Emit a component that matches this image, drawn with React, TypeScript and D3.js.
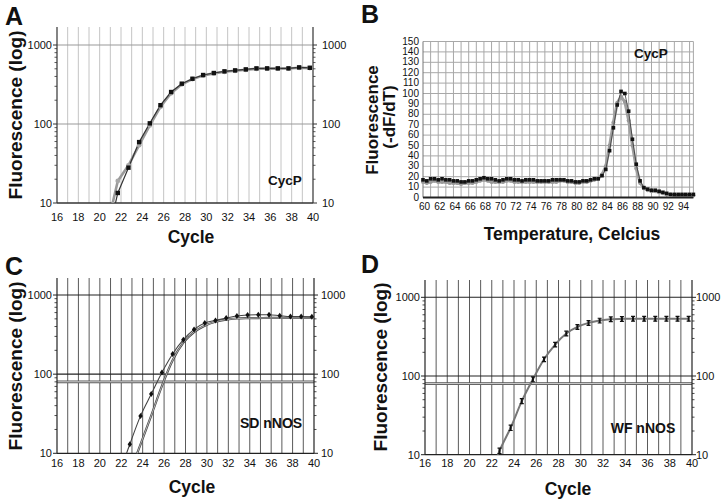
import React from "react";
import * as d3 from "d3";

const FONT = "'Liberation Sans', Arial, Helvetica, sans-serif";

// ---------- shared cycle / log axis ----------
const cycleTickLabels = [16, 18, 20, 22, 24, 26, 28, 30, 32, 34, 36, 38, 40];
const cycleGrid = [17, 18, 19, 20, 21, 22, 23, 24, 25, 26, 27, 28, 29, 30, 31, 32, 33, 34, 35, 36, 37, 38, 39];
const logMajor = [10, 100, 1000];
const logMinor = [20, 30, 40, 50, 60, 70, 80, 90, 200, 300, 400, 500, 600, 700, 800, 900];
const logHLines = [100, 1000];

// ---------- Panel A : CycP amplification ----------
const cyclesA = [20.7, 21.7, 22.7, 23.7, 24.7, 25.7, 26.7, 27.7, 28.7, 29.7, 30.7, 31.7, 32.7, 33.7, 34.7, 35.7, 36.7, 37.7, 38.7, 39.7];
const cycPRunBlack = [3.5, 13.4, 28, 59, 102, 173, 254, 324, 374, 417, 442, 464, 477, 491, 506, 506, 506, 506, 521, 515];
const cycPRunGray = [5, 19, 30, 54, 96, 165, 245, 318, 370, 410, 437, 458, 472, 486, 500, 502, 503, 504, 515, 510];

// ---------- Panel B : CycP melt curve ----------
const temps = [
  60, 60.5, 61, 61.5, 62, 62.5, 63, 63.5, 64, 64.5, 65, 65.5, 66, 66.5, 67, 67.5, 68, 68.5, 69, 69.5,
  70, 70.5, 71, 71.5, 72, 72.5, 73, 73.5, 74, 74.5, 75, 75.5, 76, 76.5, 77, 77.5, 78, 78.5, 79, 79.5,
  80, 80.5, 81, 81.5, 82, 82.5, 83, 83.5, 84, 84.5, 85, 85.5, 86, 86.5, 87, 87.5, 88, 88.5, 89, 89.5,
  90, 90.5, 91, 91.5, 92, 92.5, 93, 93.5, 94, 94.5, 95, 95.5,
];
const meltBlack = [
  17, 16, 18, 18, 17, 18, 17, 17, 16, 16, 15, 15, 16, 16, 17, 18, 19, 18, 18, 17,
  16, 17, 18, 18, 17, 17, 16, 17, 17, 17, 16, 16, 16, 16, 17, 17, 17, 17, 16, 16,
  15, 15, 16, 16, 17, 18, 18, 21, 27, 45, 67, 89, 102, 100, 83, 56, 32, 16, 9.5, 8,
  7, 7, 6, 5, 4, 3, 3, 3, 3, 3, 3, 3,
];
const meltGray = [
  15, 14, 15, 16, 15, 15, 15, 14, 14, 14, 13, 14, 14, 14, 15, 16, 17, 16, 15, 15,
  15, 15, 16, 16, 15, 15, 15, 15, 15, 15, 15, 15, 15, 15, 15, 15, 16, 16, 15, 15,
  14, 14, 15, 15, 16, 17, 18, 22, 30, 50, 72, 91, 97, 92, 74, 50, 28, 14, 9, 7,
  6, 6, 5, 4, 3, 3, 2, 2, 2, 2, 2, 2,
];
const tempTickLabels = [60, 62, 64, 66, 68, 70, 72, 74, 76, 78, 80, 82, 84, 86, 88, 90, 92, 94];
const tempGrid = [61, 62, 63, 64, 65, 66, 67, 68, 69, 70, 71, 72, 73, 74, 75, 76, 77, 78, 79, 80, 81, 82, 83, 84, 85, 86, 87, 88, 89, 90, 91, 92, 93, 94, 95, 95.5];
const dfTicks = [0, 10, 20, 30, 40, 50, 60, 70, 80, 90, 100, 110, 120, 130, 140, 150];

// ---------- Panel C : SD nNOS ----------
const cyclesC = [21.8, 22.8, 23.8, 24.8, 25.8, 26.8, 27.8, 28.8, 29.8, 30.8, 31.8, 32.8, 33.8, 34.8, 35.8, 36.8, 37.8, 38.8, 39.8];
const sdRun1 = [5.4, 13, 29.7, 56, 105, 180, 273, 368, 443, 478, 511, 543, 558, 563, 563, 548, 535, 535, 530];
const sdRun2 = [2, 5.5, 13, 30, 71, 150, 250, 340, 410, 460, 490, 505, 510, 512, 513, 513, 513, 513, 513];
const thresholdC = 80;

// ---------- Panel D : WF nNOS ----------
const cyclesD = [21.7, 22.7, 23.7, 24.7, 25.7, 26.7, 27.7, 28.7, 29.7, 30.7, 31.7, 32.7, 33.7, 34.7, 35.7, 36.7, 37.7, 38.7, 39.7];
const wfMean = [4.7, 11.2, 22, 48, 91, 163, 251, 347, 421, 473, 507, 527, 532, 535, 535, 535, 535, 535, 535];
const wfErr = [0, 0.9, 1.7, 3.5, 6.5, 11, 17, 24, 29, 33, 35, 37, 37, 38, 38, 38, 38, 38, 38];
const thresholdD = 80;

type Frame = { left: number; right: number; top: number; bottom: number; yMax: number };

function scalesFor(f: Frame) {
  const x = d3.scaleLinear().domain([16, 40]).range([f.left, f.right]);
  const y = d3.scaleLog().domain([10, f.yMax]).range([f.bottom, f.top]);
  return { x, y };
}

function LogFrame(props: {
  id: string;
  f: Frame;
  vColor: string;
  hColor: string;
  axisColor: string;
  rightGap: number;
  labelY: number;
  threshold?: number;
  children?: React.ReactNode;
}) {
  const { id, f, vColor, hColor, axisColor, rightGap, labelY, threshold } = props;
  const { x, y } = scalesFor(f);
  return (
    <g>
      <defs>
        <clipPath id={id}>
          <rect x={f.left} y={f.top - 4} width={f.right - f.left} height={f.bottom - f.top + 4} />
        </clipPath>
      </defs>
      {cycleGrid.map((c) => (
        <line key={"v" + c} x1={x(c)} x2={x(c)} y1={f.top} y2={f.bottom} stroke={vColor} strokeWidth={1} />
      ))}
      {logHLines.map((v) => (
        <line key={"h" + v} x1={f.left} x2={f.right} y1={y(v)} y2={y(v)} stroke={hColor} strokeWidth={1.1} />
      ))}
      {threshold !== undefined && (
        <g>
          <line x1={f.left} x2={f.right} y1={y(threshold)} y2={y(threshold)} stroke="#555" strokeWidth={2.8} />
          <line x1={f.left} x2={f.right} y1={y(threshold)} y2={y(threshold)} stroke="#e6e6e6" strokeWidth={0.9} />
        </g>
      )}
      <line x1={f.left} x2={f.left} y1={f.top} y2={f.bottom} stroke={axisColor} strokeWidth={1.2} />
      <line x1={f.right} x2={f.right} y1={f.top} y2={f.bottom} stroke={axisColor} strokeWidth={1.2} />
      <line x1={f.left} x2={f.right} y1={f.bottom} y2={f.bottom} stroke={axisColor} strokeWidth={1.3} />
      {logMinor.map((v) => (
        <g key={"m" + v}>
          <line x1={f.left - 2.5} x2={f.left} y1={y(v)} y2={y(v)} stroke={axisColor} strokeWidth={0.8} />
          <line x1={f.right} x2={f.right + 2.5} y1={y(v)} y2={y(v)} stroke={axisColor} strokeWidth={0.8} />
        </g>
      ))}
      {logMajor.map((v) => (
        <g key={"M" + v}>
          <line x1={f.left - 4} x2={f.left} y1={y(v)} y2={y(v)} stroke={axisColor} strokeWidth={1} />
          <line x1={f.right} x2={f.right + 4} y1={y(v)} y2={y(v)} stroke={axisColor} strokeWidth={1} />
          <text x={f.left - 5} y={y(v) + 4} textAnchor="end" fontFamily={FONT} fontSize={11} fill="#111">{v}</text>
          <text x={f.right + rightGap} y={y(v) + 4} textAnchor="start" fontFamily={FONT} fontSize={11} fill="#111">{v}</text>
        </g>
      ))}
      {cycleTickLabels.map((c) => (
        <text key={"t" + c} x={x(c)} y={labelY} textAnchor="middle" fontFamily={FONT} fontSize={11} fill="#111">
          {c}
        </text>
      ))}
      <g clipPath={`url(#${id})`}>{props.children}</g>
    </g>
  );
}

function toPts(xs: number[], vs: number[]) {
  return xs.map((c, i) => ({ c, v: vs[i] }));
}

function PanelA() {
  const f: Frame = { left: 57, right: 313, top: 27, bottom: 203, yMax: 1690 };
  const { x, y } = scalesFor(f);
  const line = d3.line<{ c: number; v: number }>().x((d) => x(d.c)).y((d) => y(d.v));
  const gray = toPts(cyclesA, cycPRunGray);
  const black = toPts(cyclesA, cycPRunBlack);
  return (
    <g>
      <LogFrame id="clipA" f={f} vColor="#c4c4c4" hColor="#9a9a9a" axisColor="#333" rightGap={9} labelY={221}>
        <path d={line(gray) || ""} fill="none" stroke="#9a9a9a" strokeWidth={2.6} />
        <path d={line(black) || ""} fill="none" stroke="#333" strokeWidth={1.2} />
        {gray.map((d, i) => (
          <circle key={"g" + i} cx={x(d.c)} cy={y(d.v)} r={2.4} fill="#a8a8a8" />
        ))}
        {black.map((d, i) => (
          <rect key={"b" + i} x={x(d.c) - 2.2} y={y(d.v) - 2.2} width={4.4} height={4.4} fill="#111" />
        ))}
      </LogFrame>
      <text x={5} y={25} fontFamily={FONT} fontSize={25} fontWeight="bold" fill="#111">A</text>
      <text transform="translate(22,115) rotate(-90)" textAnchor="middle" fontFamily={FONT} fontSize={19} fontWeight="bold" fill="#111">
        Fluorescence (log)
      </text>
      <text x={191} y={243} textAnchor="middle" fontFamily={FONT} fontSize={17.5} fontWeight="bold" fill="#111">Cycle</text>
      <text x={285} y={185} textAnchor="middle" fontFamily={FONT} fontSize={13.5} fontWeight="bold" fill="#111">CycP</text>
    </g>
  );
}

function PanelB() {
  const left = 423, right = 693.4, top = 41.5, bottom = 197.5;
  const x = d3.scaleLinear().domain([60, 95.5]).range([left, right]);
  const y = d3.scaleLinear().domain([0, 150]).range([bottom, top]);
  const line = d3.line<{ c: number; v: number }>().x((d) => x(d.c)).y((d) => y(d.v));
  const gray = toPts(temps, meltGray);
  const black = toPts(temps, meltBlack);
  return (
    <g>
      {tempGrid.map((t) => (
        <line key={"v" + t} x1={x(t)} x2={x(t)} y1={top} y2={bottom} stroke="#a8a8a8" strokeWidth={1} />
      ))}
      {dfTicks.filter((v) => v > 0).map((v) => (
        <line key={"h" + v} x1={left} x2={right} y1={y(v)} y2={y(v)} stroke="#a8a8a8" strokeWidth={1} />
      ))}
      <line x1={left} x2={left} y1={top} y2={bottom} stroke="#777" strokeWidth={1} />
      {dfTicks.map((v) => (
        <text key={"yl" + v} x={left - 4} y={y(v) + 3} textAnchor="end" fontFamily={FONT} fontSize={10} fill="#111">{v}</text>
      ))}
      {tempTickLabels.map((t) => (
        <text key={"xl" + t} x={x(t) + 1.5} y={210} textAnchor="middle" fontFamily={FONT} fontSize={10} fill="#111">{t}</text>
      ))}
      <path d={line(gray) || ""} fill="none" stroke="#a0a0a0" strokeWidth={3} />
      {gray.map((d, i) => (
        <circle key={"g" + i} cx={x(d.c)} cy={y(d.v)} r={2} fill="#999" />
      ))}
      <path d={line(black) || ""} fill="none" stroke="#333" strokeWidth={0.8} />
      {black.map((d, i) => (
        <rect key={"b" + i} x={x(d.c) - 1.8} y={y(d.v) - 1.8} width={3.6} height={3.6} fill="#111" />
      ))}
      <line x1={left} x2={right} y1={bottom} y2={bottom} stroke="#222" strokeWidth={2} />
      <text x={361} y={23} fontFamily={FONT} fontSize={25} fontWeight="bold" fill="#111">B</text>
      <text transform="translate(378,120) rotate(-90)" textAnchor="middle" fontFamily={FONT} fontSize={17} fontWeight="bold" fill="#111">Fluorescence</text>
      <text transform="translate(395,117) rotate(-90)" textAnchor="middle" fontFamily={FONT} fontSize={17} fontWeight="bold" fill="#111">(-dF/dT)</text>
      <text x={572} y={240} textAnchor="middle" fontFamily={FONT} fontSize={17.5} fontWeight="bold" fill="#111">Temperature, Celcius</text>
      <text x={651} y={58} textAnchor="middle" fontFamily={FONT} fontSize={13.5} fontWeight="bold" fill="#111">CycP</text>
    </g>
  );
}

function PanelC() {
  const f: Frame = { left: 57, right: 314, top: 278, bottom: 453.3, yMax: 1641 };
  const { x, y } = scalesFor(f);
  const line = d3.line<{ c: number; v: number }>().x((d) => x(d.c)).y((d) => y(d.v)).curve(d3.curveMonotoneX);
  const r1 = toPts(cyclesC, sdRun1);
  const r2 = toPts(cyclesC, sdRun2);
  return (
    <g>
      <LogFrame id="clipC" f={f} vColor="#5a5a5a" hColor="#222" axisColor="#222" rightGap={7} labelY={467} threshold={thresholdC}>
        <path d={line(r2) || ""} fill="none" stroke="#444" strokeWidth={2.2} />
        <path d={line(r2) || ""} fill="none" stroke="#d0d0d0" strokeWidth={0.8} />
        <path d={line(r1) || ""} fill="none" stroke="#444" strokeWidth={1.1} />
        {r1.map((d, i) => (
          <path key={"p" + i} d={`M${x(d.c)},${y(d.v) - 3}L${x(d.c) + 2.2},${y(d.v)}L${x(d.c)},${y(d.v) + 3}L${x(d.c) - 2.2},${y(d.v)}Z`} fill="#111" />
        ))}
      </LogFrame>
      <text x={5} y={275} fontFamily={FONT} fontSize={25} fontWeight="bold" fill="#111">C</text>
      <text transform="translate(22,366) rotate(-90)" textAnchor="middle" fontFamily={FONT} fontSize={19} fontWeight="bold" fill="#111">
        Fluorescence (log)
      </text>
      <text x={192} y={493} textAnchor="middle" fontFamily={FONT} fontSize={17.5} fontWeight="bold" fill="#111">Cycle</text>
      <text x={271} y={428} textAnchor="middle" fontFamily={FONT} fontSize={14} fontWeight="bold" fill="#111">SD nNOS</text>
    </g>
  );
}

function PanelD() {
  const f: Frame = { left: 425, right: 692, top: 280, bottom: 454.7, yMax: 1660 };
  const { x, y } = scalesFor(f);
  const line = d3.line<{ c: number; v: number }>().x((d) => x(d.c)).y((d) => y(d.v)).curve(d3.curveMonotoneX);
  const pts = cyclesD.map((c, i) => ({ c, v: wfMean[i], e: wfErr[i] }));
  return (
    <g>
      <LogFrame id="clipD" f={f} vColor="#5a5a5a" hColor="#222" axisColor="#222" rightGap={4} labelY={467} threshold={thresholdD}>
        <path d={line(pts) || ""} fill="none" stroke="#777" strokeWidth={2} />
        {pts.map((d, i) => {
          const cx = x(d.c);
          const y1 = y(Math.max(d.v - d.e, 0.1));
          const y2 = y(d.v + d.e);
          return (
            <g key={"e" + i} stroke="#111">
              <line x1={cx} x2={cx} y1={y1} y2={y2} strokeWidth={2} />
              <line x1={cx - 2} x2={cx + 2} y1={y1} y2={y1} strokeWidth={1.2} />
              <line x1={cx - 2} x2={cx + 2} y1={y2} y2={y2} strokeWidth={1.2} />
            </g>
          );
        })}
      </LogFrame>
      <text x={361} y={273} fontFamily={FONT} fontSize={25} fontWeight="bold" fill="#111">D</text>
      <text transform="translate(387,367) rotate(-90)" textAnchor="middle" fontFamily={FONT} fontSize={19} fontWeight="bold" fill="#111">
        Fluorescence (log)
      </text>
      <text x={568} y={495} textAnchor="middle" fontFamily={FONT} fontSize={17.5} fontWeight="bold" fill="#111">Cycle</text>
      <text x={643} y={433} textAnchor="middle" fontFamily={FONT} fontSize={14} fontWeight="bold" fill="#111">WF nNOS</text>
    </g>
  );
}

export default function App() {
  return (
    <div style={{ position: "absolute", left: 0, top: 0 }}>
      <svg width={725} height={503} viewBox="0 0 725 503" style={{ display: "block", background: "#fff" }}>
        <rect x={0} y={0} width={725} height={503} fill="#fff" />
        <PanelA />
        <PanelB />
        <PanelC />
        <PanelD />
      </svg>
    </div>
  );
}
